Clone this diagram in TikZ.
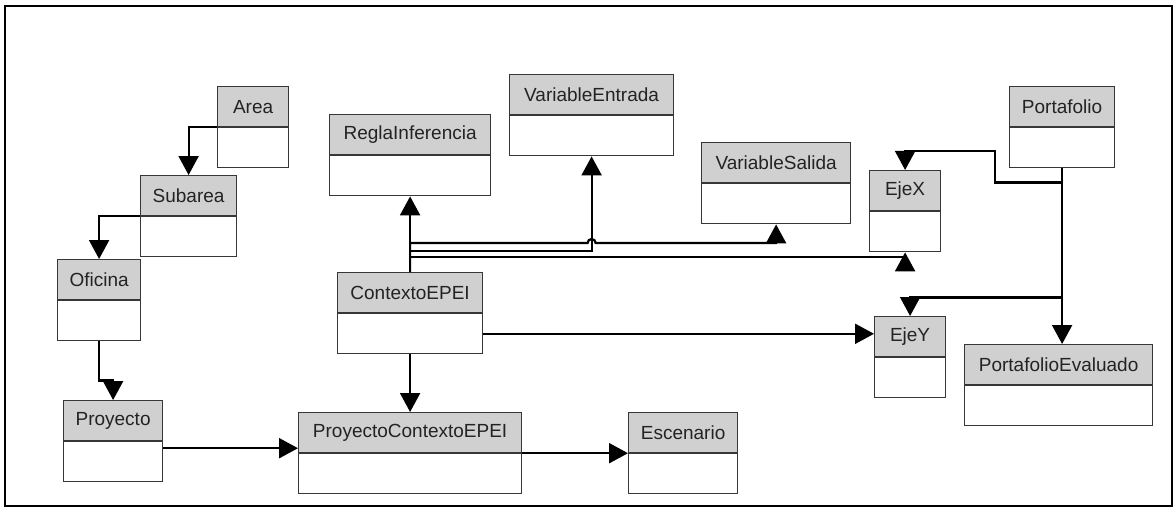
\documentclass[tikz,border=0pt]{standalone}
\usepackage{fontspec}
\setmainfont{Liberation Sans}
\usetikzlibrary{positioning,arrows.meta,calc}
\definecolor{hdrgray}{RGB}{208,208,208}
\definecolor{boxline}{RGB}{55,55,55}
\definecolor{txtgray}{RGB}{35,35,35}

\begin{document}
\begin{tikzpicture}[x=1pt, y=-1pt,
  head/.style={draw=boxline, fill=hdrgray, line width=1.2pt, anchor=north west,
    minimum height=40pt, inner sep=0pt, text=txtgray, font=\fontsize{19}{22}\selectfont},
  body/.style={draw=boxline, fill=white, line width=1.2pt, minimum height=40pt, inner sep=0pt},
  conn/.style={line width=2.2pt, -{Triangle[length=19pt, width=20pt]}}]

  \useasboundingbox (0,0) rectangle (1175,508);
  \draw[line width=2pt] (5,6) rectangle (1172,506);

  % left chain
  \node[head, minimum width=71pt] (area) at (217,86) {Area};
  \node[body, minimum width=71pt, below=0pt of area] (area-b) {};
  \node[head, minimum width=96pt] (subarea) at (140,175) {Subarea};
  \node[body, minimum width=96pt, below=0pt of subarea] (subarea-b) {};
  \node[head, minimum width=83pt] (oficina) at (57,259) {Oficina};
  \node[body, minimum width=83pt, below=0pt of oficina] (oficina-b) {};
  \node[head, minimum width=99pt] (proyecto) at (63,400) {Proyecto};
  \node[body, minimum width=99pt, below=0pt of proyecto] (proyecto-b) {};

  % middle
  \node[head, minimum width=223pt] (pce) at (298,412) {ProyectoContextoEPEI};
  \node[body, minimum width=223pt, below=0pt of pce] (pce-b) {};
  \node[head, minimum width=145pt] (ctx) at (337,272) {ContextoEPEI};
  \node[body, minimum width=145pt, below=0pt of ctx] (ctx-b) {};
  \node[head, minimum width=161pt] (regla) at (329,114) {ReglaInferencia};
  \node[body, minimum width=161pt, below=0pt of regla] (regla-b) {};
  \node[head, minimum width=164pt] (varent) at (509,74) {VariableEntrada};
  \node[body, minimum width=164pt, below=0pt of varent] (varent-b) {};
  \node[head, minimum width=149pt] (varsal) at (701,142) {VariableSalida};
  \node[body, minimum width=149pt, below=0pt of varsal] (varsal-b) {};
  \node[head, minimum width=109pt] (escenario) at (628,412) {Escenario};
  \node[body, minimum width=109pt, below=0pt of escenario] (escenario-b) {};

  % right
  \node[head, minimum width=71pt] (ejex) at (869,170) {EjeX};
  \node[body, minimum width=71pt, below=0pt of ejex] (ejex-b) {};
  \node[head, minimum width=71pt] (ejey) at (874,316) {EjeY};
  \node[body, minimum width=71pt, below=0pt of ejey] (ejey-b) {};
  \node[head, minimum width=105pt] (portafolio) at (1009,86) {Portafolio};
  \node[body, minimum width=105pt, below=0pt of portafolio] (portafolio-b) {};
  \node[head, minimum width=188pt] (porteval) at (964,344) {PortafolioEvaluado};
  \node[body, minimum width=188pt, below=0pt of porteval] (porteval-b) {};

  % connectors
  \draw[conn] (area.south west) -| (subarea.north);
  \draw[conn] (subarea.south west) -| (oficina.north);
  \draw[conn] (oficina-b.south) -- ++(0,39) -| (proyecto.north);
  \draw[conn] ([yshift=-7pt]proyecto.south east) -- ([yshift=-7pt]proyecto.south east -| pce.west);
  \draw[conn] (ctx-b.south) -- (pce.north);
  \draw[conn] (pce.south east) -- (escenario.south west);
  \draw[conn] (ctx-b.east) -- (ctx-b.east -| ejey.west);
  \draw[conn] (ctx.north) -- (regla-b.south);
  \draw[conn] (ctx.north) -- ++(0,-21) -| (varent-b.south);
  \draw[conn] (ctx.north) -- ++(0,-29) coordinate (hs)
    -- ($(hs -| varent-b.south)+(-4,0)$) arc[start angle=180, end angle=0, radius=4pt]
    -| (varsal-b.south);
  \draw[conn] (ctx.north) -- ++(0,-15) -| (ejex-b.south);
  \draw[conn] (portafolio-b.south) -- ++(0,14) -- ++(-67,0) -- ++(0,-31) -| (ejex.north);
  \draw[conn] (portafolio-b.south) -- ++(0,129) -| (ejey.north);
  \draw[conn] (portafolio-b.south) -- (portafolio-b.south |- porteval.north);

\end{tikzpicture}
\end{document}
